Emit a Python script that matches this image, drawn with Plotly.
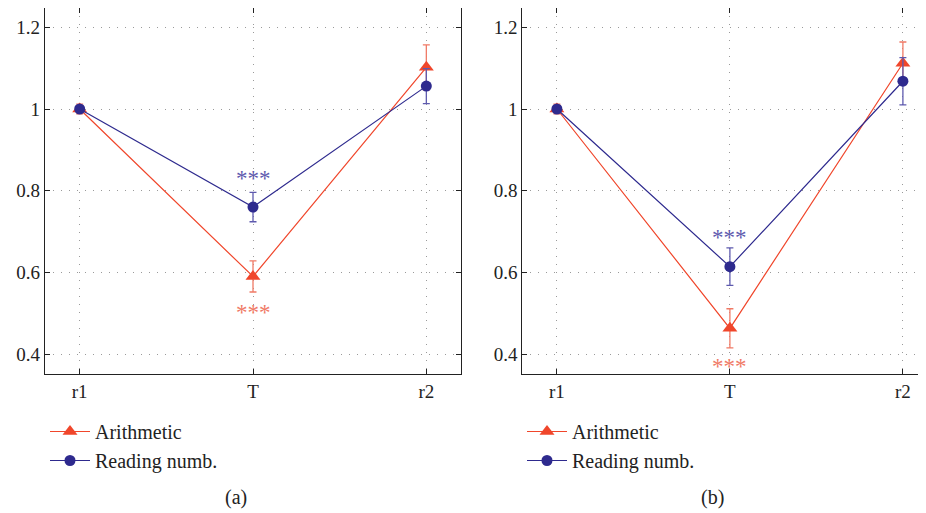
import plotly.graph_objects as go

categories = ["r1", "T", "r2"]
y_ticks = [0.4, 0.6, 0.8, 1.0, 1.2]
y_tick_labels = ["0.4", "0.6", "0.8", "1", "1.2"]

# Panel (a)
a_arith = [1.0, 0.59, 1.102]
a_arith_err = [0.012, 0.038, 0.055]
a_read = [1.0, 0.76, 1.056]
a_read_err = [0.008, 0.036, 0.043]
a_star_arith = [0.508]
a_star_read = [0.837]

# Panel (b)
b_arith = [1.0, 0.463, 1.112]
b_arith_err = [0.012, 0.048, 0.052]
b_read = [1.0, 0.614, 1.068]
b_read_err = [0.008, 0.046, 0.058]
b_star_arith = [0.377]
b_star_read = [0.693]

series_names = ["Arithmetic", "Reading numb."]
panel_labels = ["(a)", "(b)"]

RED = "#F0462B"
RED_ERR = "#F07A66"
BLUE = "#2E2A8E"
BLUE_ERR = "#5E5AAE"
FONT = "'Liberation Serif', 'Times New Roman', 'DejaVu Serif', serif"

# page body has an 8px margin: work in window coordinates and shift by OFF
OFF = 8
WIN_W, WIN_H = 926, 513
W, H = WIN_W - OFF, WIN_H - OFF


def px_x(v):
    return min(1.0, max(0.0, (v - OFF) / W))


def px_y(v):
    return min(1.0, max(0.0, 1 - (v - OFF) / H))


fig = go.Figure()


def add_panel(xa, ya, arith, arith_err, read, read_err, legend):
    fig.add_trace(go.Scatter(
        x=categories, y=arith, name=series_names[0], mode="lines+markers",
        xaxis=xa, yaxis=ya, legend=legend,
        line=dict(color=RED, width=1.2),
        marker=dict(symbol="triangle-up", size=13, color=RED),
        error_y=dict(type="data", array=arith_err, color=RED_ERR, thickness=1.3, width=3.5),
    ))
    fig.add_trace(go.Scatter(
        x=categories, y=read, name=series_names[1], mode="lines+markers",
        xaxis=xa, yaxis=ya, legend=legend,
        line=dict(color=BLUE, width=1.2),
        marker=dict(symbol="circle", size=11, color=BLUE),
        error_y=dict(type="data", array=read_err, color=BLUE_ERR, thickness=1.3, width=3.5),
    ))


add_panel("x", "y", a_arith, a_arith_err, a_read, a_read_err, "legend")
add_panel("x2", "y2", b_arith, b_arith_err, b_read, b_read_err, "legend2")

# y scale: value 1 at window y=109, 408.5 px per unit
y_top_px, y_bot_px = 8, 374
y_range = [1 - (y_bot_px - 109) / 408.5, 1 + (109 - y_top_px) / 408.5]
y_dom = [px_y(y_bot_px), px_y(y_top_px)]
xa_dom = [px_x(45), px_x(461)]
xb_dom = [px_x(522.3), 1.0]
unit_px = 173.0
xb_range = [-0.2, -0.2 + (WIN_W - 522.3) / unit_px]

axis_common = dict(
    showline=True, linecolor="#222", linewidth=1.2,
    ticks="inside", ticklen=5, tickcolor="#222", tickwidth=1,
    showgrid=True, gridcolor="#9a9a9a", griddash="1px,7px", gridwidth=1,
    zeroline=False, automargin=False,
    tickfont=dict(family=FONT, size=19, color="#222"),
)

legend_common = dict(xanchor="left", yanchor="top",
                     font=dict(family=FONT, size=20, color="#222"),
                     bgcolor="rgba(0,0,0,0)", itemwidth=40)

fig.update_layout(
    width=W, height=H,
    margin=dict(l=0, r=0, t=0, b=0),
    paper_bgcolor="white", plot_bgcolor="white",
    font=dict(family=FONT, color="#222"),
    xaxis=dict(domain=xa_dom, range=[-0.2, 2.2], type="category", anchor="y",
               mirror="allticks", **axis_common),
    yaxis=dict(domain=y_dom, range=y_range, tickvals=y_ticks, ticktext=y_tick_labels,
               anchor="x", mirror="allticks", **axis_common),
    xaxis2=dict(domain=xb_dom, range=xb_range, type="category", anchor="y2",
                mirror="allticks", **axis_common),
    yaxis2=dict(domain=y_dom, range=y_range, tickvals=y_ticks, ticktext=y_tick_labels,
                anchor="x2", mirror=False, **axis_common),
    legend=dict(x=px_x(45), y=px_y(412), **legend_common),
    legend2=dict(x=px_x(522), y=px_y(412), **legend_common),
    showlegend=True,
)

# significance stars
for xa, ya, sy, col in [("x", "y", a_star_read, BLUE_ERR), ("x", "y", a_star_arith, RED_ERR),
                        ("x2", "y2", b_star_read, BLUE_ERR), ("x2", "y2", b_star_arith, RED_ERR)]:
    fig.add_annotation(x=categories[1], y=sy[0], xref=xa, yref=ya, text="***",
                       showarrow=False, yanchor="middle", yshift=-3,
                       font=dict(family=FONT, size=23, color=col))

# panel labels
for lbl, cx in zip(panel_labels, [236, 712]):
    fig.add_annotation(x=px_x(cx), y=px_y(497), xref="paper", yref="paper",
                       text=lbl, showarrow=False, xanchor="center", yanchor="middle",
                       font=dict(family=FONT, size=20, color="#222"))

fig.write_html("out.html")
